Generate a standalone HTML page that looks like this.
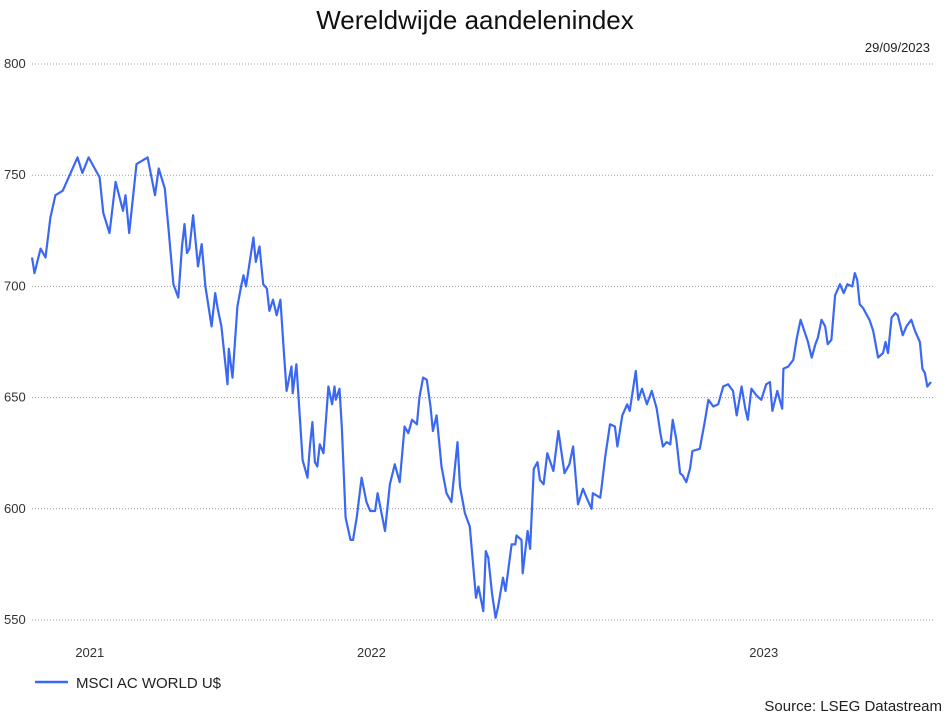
<!DOCTYPE html>
<html><head><meta charset="utf-8">
<style>
html,body{margin:0;padding:0;background:#fff;}
body{width:948px;height:715px;overflow:hidden;font-family:"Liberation Sans",sans-serif;}
svg text{font-family:"Liberation Sans",sans-serif;}
</style></head>
<body>
<svg id="chart" width="948" height="715" viewBox="0 0 948 715" xmlns="http://www.w3.org/2000/svg">
<text x="475" y="29" font-size="26" text-anchor="middle" fill="#111">Wereldwijde aandelenindex</text>
<text x="930" y="52" font-size="13" text-anchor="end" fill="#222">29/09/2023</text>
<g id="grid"></g>
<g id="yaxis"></g>
<g id="xaxis"></g>
<path id="line" fill="none" stroke="#3b68f2" stroke-width="2.2" stroke-linejoin="round"/>
<g>
<line x1="35" y1="682" x2="68" y2="682" stroke="#3b68f2" stroke-width="2.5"/>
<text x="76" y="688" font-size="15" fill="#222">MSCI AC WORLD U$</text>
</g>
<text x="942" y="711" font-size="15" text-anchor="end" fill="#222">Source: LSEG Datastream</text>
</svg>
<script>
// days since 29/09/2021
const days = [0,2,7,11,15,19,25,37,41,46,55,58,63,68,74,76,79,85,94,100,103,108,111,115,119,122,124,126,128,131,135,138,141,146,149,151,154,159,160,163,167,170,172,174,180,182,185,188,191,193,196,199,202,205,207,211,212,215,220,224,226,228,230,232,234,237,241,244,246,247,250,252,255,259,261,264,268,272,275,279,281,287,291,295,299,303,306,309,313,315,318,321,324,326,329,333,337,341,346,348,352,356,361,363,367,369,371,374,377,379,383,385,390,393,394,398,399,403,405,408,411,413,416,419,424,428,433,437,440,444,448,451,455,456,462,463,466,470,474,476,480,484,486,491,493,496,500,504,508,511,513,516,519,521,524,527,529,532,535,537,543,547,550,554,558,562,566,570,573,577,580,582,585,589,593,597,600,602,606,610,611,615,619,622,625,628,631,634,637,639,642,645,647,650,653,657,660,663,667,669,671,673,676,679,681,684,688,692,694,696,699,702,704,708,711,715,718,722,724,726,728,731];
const values = [713,706,717,713,731,741,743,758,751,758,749,733,724,747,734,741,724,755,758,741,753,744,726,701,695,718,728,715,717,732,709,719,700,682,697,690,682,656,672,659,691,700,705,700,722,711,718,701,699,689,694,687,694,669,653,664,652,665,622,614,628,639,621,619,629,625,655,647,655,649,654,636,596,586,586,596,614,603,599,599,607,590,611,620,612,637,634,640,638,650,659,658,646,635,642,619,607,603,630,610,598,592,560,565,554,581,578,562,551,556,569,563,584,584,588,586,571,590,582,618,621,613,611,625,617,635,616,620,628,602,609,605,600,607,605,609,623,638,637,628,642,647,644,662,649,654,647,653,645,634,628,630,629,640,631,616,615,612,618,626,627,639,649,646,647,655,656,653,642,655,645,640,654,651,649,656,657,644,653,645,663,664,667,677,685,680,675,668,674,677,685,682,674,676,696,701,697,701,700,706,703,692,690,687,685,680,668,670,675,670,686,688,687,678,682,685,680,675,663,661,655,657];
const yTicks = [550,600,650,700,750,800];
const xTickLabels = ["2021","2022","2023"];
const xTickDays = [47,276,595];

const X0=32, X1=931, D0=0, D1=731;
const Y0=620, Y1=64, V0=550, V1=800;
function xScale(d){return X0+(d-D0)/(D1-D0)*(X1-X0);}
function yScale(v){return Y0-(v-V0)/(V1-V0)*(Y0-Y1);}
const NS="http://www.w3.org/2000/svg";
const grid=document.getElementById('grid'), yaxis=document.getElementById('yaxis'), xaxis=document.getElementById('xaxis');
yTicks.forEach(t=>{
  const y=yScale(t);
  const l=document.createElementNS(NS,'line');
  
  
  l.setAttribute('x1',32);l.setAttribute('x2',935);l.setAttribute('y1',y);l.setAttribute('y2',y);
  l.setAttribute('stroke','#9a9a9a');l.setAttribute('stroke-width','1');l.setAttribute('stroke-dasharray','1 2');
  grid.appendChild(l);
  const tx=document.createElementNS(NS,'text');
  
  
  tx.setAttribute('x',4);tx.setAttribute('y',y+4);tx.setAttribute('font-size','13');tx.setAttribute('fill','#333');
  tx.textContent=t;
  yaxis.appendChild(tx);
});
xTickLabels.forEach((lab,i)=>{
  const tx=document.createElementNS(NS,'text');
  
  
  tx.setAttribute('x',xScale(xTickDays[i]));tx.setAttribute('y',657);tx.setAttribute('font-size','13');tx.setAttribute('text-anchor','middle');tx.setAttribute('fill','#333');
  tx.textContent=lab;
  xaxis.appendChild(tx);
});
document.getElementById('line').setAttribute('d',values.map((v,i)=>(i?'L':'M')+xScale(days[i]).toFixed(1)+','+yScale(v).toFixed(1)).join(''));
</script>
</body></html>
